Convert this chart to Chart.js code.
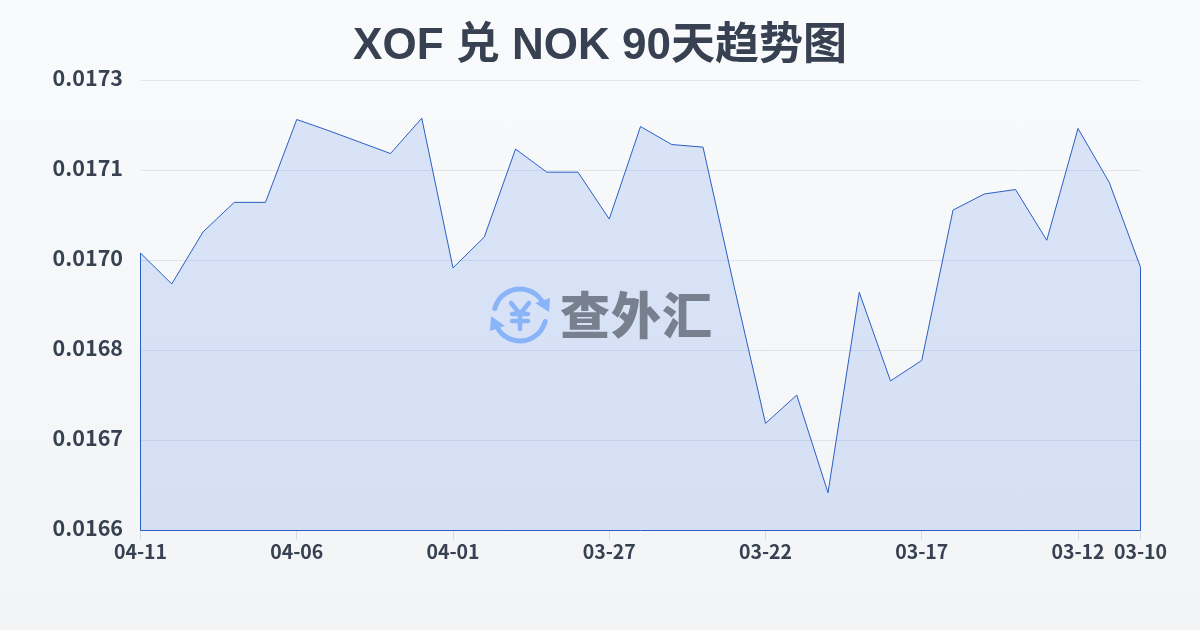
<!DOCTYPE html>
<html lang="zh">
<head>
<meta charset="utf-8">
<style>
html,body{margin:0;padding:0;width:1200px;height:630px;overflow:hidden;background:linear-gradient(180deg,#f8fafc,#f3f4f6)}
#w{position:absolute;left:0;top:0;width:1200px;height:630px}
</style>
<script src="https://cdn.jsdelivr.net/npm/chart.js@4/dist/chart.umd.min.js"></script>
</head>
<body>
<div id="w"><canvas id="c" width="1200" height="630"></canvas></div>
<script>
const titleText = 'XOF 兑 NOK 90天趋势图';
const watermarkText = '查外汇';
const dates = ['04-11','04-10','04-09','04-08','04-07','04-06','04-05','04-04','04-03','04-02','04-01','03-31','03-30','03-29','03-28','03-27','03-26','03-25','03-24','03-23','03-22','03-21','03-20','03-19','03-18','03-17','03-16','03-15','03-14','03-13','03-12','03-11','03-10'];
const rates = [0.016991,0.016943,0.017024,0.017070,0.017070,0.017199,0.017182,0.017164,0.017146,0.017201,0.016968,0.017016,0.017153,0.017117,0.017117,0.017044,0.017188,0.017160,0.017156,0.016938,0.016726,0.016770,0.016618,0.016930,0.016792,0.016824,0.017058,0.017083,0.017090,0.017011,0.017185,0.017101,0.016969];
const yMin = 0.01656, yMax = 0.01726, yStep = 0.00014;
const ink = '#374151', lineBlue = '#2a5fc2', gridGrey = 'rgba(148,163,184,0.22)';

const edges = {
  id:'edges',
  afterDatasetsDraw(chart){
    const {ctx,chartArea:a} = chart, pts = chart.getDatasetMeta(0).data;
    ctx.save();
    ctx.strokeStyle = lineBlue; ctx.lineWidth = 1;
    ctx.beginPath();
    ctx.moveTo(pts[0].x, pts[0].y);
    ctx.lineTo(a.left, a.bottom+0.5);
    ctx.lineTo(a.right, a.bottom+0.5);
    ctx.lineTo(pts[pts.length-1].x, pts[pts.length-1].y);
    ctx.stroke();
    ctx.restore();
  }
};
const watermark = {
  id:'watermark',
  afterDraw(chart){
    const {ctx} = chart;
    ctx.save();
    const cx=520, cy=315, r=26;
    ctx.strokeStyle='#8ab4f8'; ctx.fillStyle='#8ab4f8'; ctx.lineWidth=5; ctx.lineCap='round';
    ctx.beginPath(); ctx.arc(cx,cy,r,Math.PI*1.08,Math.PI*1.82); ctx.stroke();
    ctx.beginPath(); ctx.arc(cx,cy,r,Math.PI*0.08,Math.PI*0.82); ctx.stroke();
    ctx.beginPath(); ctx.moveTo(550,298); ctx.lineTo(549,312); ctx.lineTo(535,303); ctx.closePath(); ctx.fill();
    ctx.beginPath(); ctx.moveTo(490,331); ctx.lineTo(491,316); ctx.lineTo(505,326); ctx.closePath(); ctx.fill();
    ctx.lineWidth=4.5;
    ctx.beginPath();
    ctx.moveTo(511,303); ctx.lineTo(520,314); ctx.lineTo(529,303);
    ctx.moveTo(520,314); ctx.lineTo(520,329);
    ctx.moveTo(512,314); ctx.lineTo(528,314);
    ctx.moveTo(512,321); ctx.lineTo(528,321);
    ctx.stroke();
    ctx.fillStyle='#78808f';
    ctx.font='900 50px "Noto Sans CJK SC"';
    ctx.letterSpacing='1px';
    ctx.textBaseline='middle'; ctx.textAlign='left';
    ctx.fillText(watermarkText,560,315);
    ctx.restore();
  }
};

new Chart(document.getElementById('c'),{
  type:'line',
  data:{labels:dates,datasets:[{
    data:rates,
    borderColor:lineBlue,borderWidth:1,
    backgroundColor:'rgba(37,99,235,0.14)',
    fill:'start',tension:0,pointRadius:0
  }]},
  options:{
    responsive:false,animation:false,
    plugins:{
      legend:{display:false},tooltip:{enabled:false},
      title:{display:true,text:titleText,color:ink,
        font:{family:'"Liberation Sans","Noto Sans CJK SC",sans-serif',size:44,weight:'bold'},
        padding:{top:20,bottom:7.5}}
    },
    scales:{
      x:{
        grid:{drawOnChartArea:false,drawTicks:true,tickLength:10,tickColor:'rgba(148,163,184,0.3)'},
        border:{display:false},
        ticks:{autoSkip:false,maxRotation:0,minRotation:0,padding:0,color:ink,
          font:{family:'"Noto Sans CJK SC"',size:19.5,weight:'bold'},
          callback(v,i){return (i%5===0||i===dates.length-1)?dates[i]:null;}},
        afterFit(s){s.height=100;}
      },
      y:{
        min:yMin,max:yMax,
        grid:{color:gridGrey,lineWidth:1,drawTicks:false},
        border:{display:false},
        ticks:{stepSize:yStep,padding:17.5,color:ink,
          font:{family:'"Noto Sans CJK SC"',size:21.5,weight:'bold',lineHeight:'4px'},
          callback(v){return [Number(v).toFixed(4),''];}},
        afterFit(s){s.width=140.5;}
      },
      gutter:{
        axis:'y',position:'right',
        grid:{display:false},border:{display:false},
        ticks:{display:false},
        afterFit(s){s.width=59.5;}
      }
    }
  },
  plugins:[edges,watermark]
});
</script>
</body>
</html>
